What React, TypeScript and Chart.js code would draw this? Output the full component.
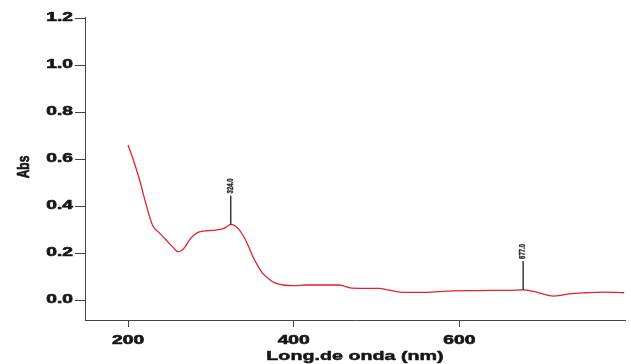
import React, { useEffect, useRef } from "react";
import { Chart, registerables } from "chart.js";

Chart.register(...registerables);

// Spectrum data (wavelength nm, absorbance)
const wavelengths = [200, 207, 214, 220, 226, 230, 238, 245, 250, 255, 260, 264, 268, 274, 280, 286, 295, 306, 314, 320, 324, 328, 333, 338, 344, 350, 355, 362, 370, 378, 387, 400, 415, 440, 455, 470, 490, 503, 515, 531, 560, 585, 612, 640, 660, 677, 688, 696, 705, 714, 722, 733, 753, 773, 799];
const absorbance = [0.66, 0.59, 0.51, 0.43, 0.355, 0.315, 0.285, 0.26, 0.24, 0.222, 0.206, 0.21, 0.222, 0.255, 0.278, 0.29, 0.295, 0.298, 0.303, 0.314, 0.322, 0.318, 0.304, 0.28, 0.24, 0.19, 0.156, 0.116, 0.09, 0.072, 0.064, 0.061, 0.064, 0.064, 0.064, 0.051, 0.05, 0.05, 0.042, 0.033, 0.033, 0.038, 0.04, 0.041, 0.041, 0.043, 0.038, 0.031, 0.022, 0.017, 0.02, 0.026, 0.031, 0.034, 0.031];

// Peak markers
const peakNm = [324, 677];
const peakAbs = [0.322, 0.043];
const peakLabels = ["324.0", "677.0"];

// Axis ticks
const xTicks = [200, 400, 600];
const yTicks = [0.0, 0.2, 0.4, 0.6, 0.8, 1.0, 1.2];
const xTitle = "Long.de onda (nm)";
const yTitle = "Abs";

const FONT = '"Liberation Sans", Arial, Helvetica, sans-serif';

function boldText(ctx: CanvasRenderingContext2D, text: string, w: number) {
  ctx.fillText(text, 0, 0);
  ctx.lineWidth = w;
  ctx.strokeText(text, 0, 0);
}

const textPlugin = {
  id: "stretchedText",
  afterDraw(chart: any) {
    const ctx = chart.ctx as CanvasRenderingContext2D;
    const xs = chart.scales.x;
    const ys = chart.scales.y;
    const area = chart.chartArea;
    ctx.save();
    ctx.fillStyle = "#161616";
    ctx.strokeStyle = "#161616";
    ctx.lineJoin = "round";

    // y tick labels
    ctx.font = `bold 12px ${FONT}`;
    ctx.textAlign = "right";
    ctx.textBaseline = "middle";
    yTicks.forEach((v) => {
      const y = ys.getPixelForValue(v);
      ctx.save();
      ctx.translate(area.left - 12, y);
      ctx.scale(1.6, 1);
      boldText(ctx, v.toFixed(1), 0.6);
      ctx.restore();
    });

    // x tick labels
    ctx.textAlign = "center";
    ctx.textBaseline = "alphabetic";
    xTicks.forEach((v) => {
      const x = xs.getPixelForValue(v);
      ctx.save();
      ctx.translate(x, area.bottom + 24);
      ctx.scale(1.6, 1);
      boldText(ctx, String(v), 0.6);
      ctx.restore();
    });

    // x title
    ctx.font = `bold 13.5px ${FONT}`;
    ctx.save();
    ctx.translate((area.left + area.right) / 2, area.bottom + 40);
    ctx.scale(1.46, 1);
    boldText(ctx, xTitle, 0.5);
    ctx.restore();

    // y title
    ctx.font = `bold 12px ${FONT}`;
    ctx.textBaseline = "middle";
    ctx.save();
    ctx.translate(25, 167);
    ctx.scale(1.35, 1);
    ctx.rotate(-Math.PI / 2);
    boldText(ctx, yTitle, 0.5);
    ctx.restore();

    // peak stems and labels
    peakNm.forEach((nm, i) => {
      const px = xs.getPixelForValue(nm);
      const py = ys.getPixelForValue(peakAbs[i]);
      ctx.strokeStyle = "#1e1e1e";
      ctx.lineWidth = 1.3;
      ctx.beginPath();
      ctx.moveTo(px, py);
      ctx.lineTo(px, py - 29);
      ctx.stroke();
      ctx.save();
      ctx.fillStyle = "#2a2a2a";
      ctx.strokeStyle = "#2a2a2a";
      ctx.font = `bold 6px ${FONT}`;
      ctx.textAlign = "left";
      ctx.textBaseline = "middle";
      ctx.translate(px, py - 31);
      ctx.scale(1.4, 1);
      ctx.rotate(-Math.PI / 2);
      boldText(ctx, peakLabels[i], 0.3);
      ctx.restore();
    });

    ctx.restore();
  },
};

export default function App() {
  const ref = useRef<HTMLCanvasElement>(null);
  useEffect(() => {
    if (!ref.current) return;
    const chart = new Chart(ref.current, {
      type: "line",
      data: {
        datasets: [
          {
            data: wavelengths.map((w, i) => ({ x: w, y: absorbance[i] })),
            borderColor: "#e2222c",
            borderWidth: 1.3,
            pointRadius: 0,
            tension: 0.4,
            cubicInterpolationMode: "monotone",
            fill: false,
          },
        ],
      },
      options: {
        animation: false,
        responsive: false,
        maintainAspectRatio: false,
        layout: { padding: { top: 17, right: 6, left: 0, bottom: 0 } },
        plugins: { legend: { display: false }, tooltip: { enabled: false } },
        scales: {
          x: {
            type: "linear",
            min: 148,
            max: 800,
            afterBuildTicks: (s: any) => {
              s.ticks = xTicks.map((v) => ({ value: v }));
            },
            afterFit: (s: any) => {
              s.height = 44;
            },
            ticks: { display: false },
            grid: { drawOnChartArea: false, drawTicks: true, tickLength: 7, color: "#444", lineWidth: 1 },
            border: { display: true, color: "#444", width: 1 },
          },
          y: {
            type: "linear",
            min: -0.085,
            max: 1.205,
            afterBuildTicks: (s: any) => {
              s.ticks = yTicks.map((v) => ({ value: v }));
            },
            afterFit: (s: any) => {
              s.width = 85;
            },
            ticks: { display: false },
            grid: { drawOnChartArea: false, drawTicks: true, tickLength: 10, color: "#444", lineWidth: 1 },
            border: { display: true, color: "#444", width: 1 },
          },
        },
      },
      plugins: [textPlugin],
    } as any);
    return () => chart.destroy();
  }, []);
  return (
    <div style={{ position: "fixed", left: 0, top: 0, width: 631, height: 364, background: "#fff" }}>
      <canvas ref={ref} width={631} height={364} style={{ width: 631, height: 364, display: "block" }} />
    </div>
  );
}
